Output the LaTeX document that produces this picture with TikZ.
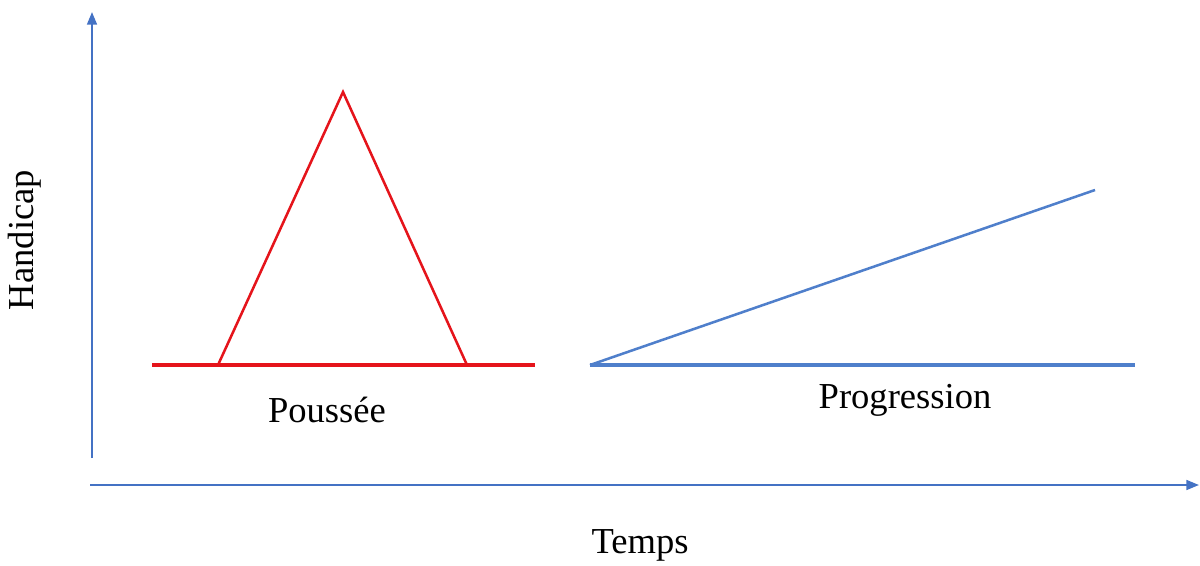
\documentclass[tikz,border=0pt]{standalone}
\usepackage{fontspec}
\setmainfont{Liberation Serif}
\usetikzlibrary{arrows.meta}
\definecolor{axblue}{HTML}{4472C4}
\definecolor{lnblue}{HTML}{4F7FCB}
\definecolor{lnred}{HTML}{E5141B}
\begin{document}
\begin{tikzpicture}[x=0.025cm,y=-0.025cm,
  axis/.style={draw=axblue,line width=1.5pt,-{Triangle[length=9pt,width=7pt]}},
  thick base/.style={line width=3pt},
  lbl/.style={font=\fontsize{26}{30}\selectfont,inner sep=0pt}]
\useasboundingbox (0,0) rectangle (1200,565);
% axes
\coordinate (o1) at (92,458);
\coordinate (ytop) at (92,12);
\coordinate (o2) at (90,485);
\coordinate (xend) at (1199,485);
\draw[axis] (o1) -- (ytop);
\draw[axis] (o2) -- (xend);
% red push
\coordinate (r1) at (152,365);
\coordinate (r2) at (535,365);
\coordinate (t1) at (218,365);
\coordinate (t2) at (343,92);
\coordinate (t3) at (467,365);
\draw[lnred,thick base] (r1) -- (r2);
\draw[lnred,line width=1.8pt,line join=miter] (t1) -- (t2) -- (t3);
% blue progression
\coordinate (b1) at (590,365);
\coordinate (b2) at (1135,365);
\coordinate (b3) at (1095,190);
\draw[lnblue,thick base] (b1) -- (b2);
\draw[lnblue,line width=1.8pt] (b1) -- (b3);
% labels
\node[lbl] (pous) at (327,410) {Poussée};
\node[lbl] (prog) at (905,400) {Progression};
\node[lbl] (temps) at (640,545) {Temps};
\node[lbl,rotate=90] (hand) at (25,240) {Handicap};
\end{tikzpicture}
\end{document}
